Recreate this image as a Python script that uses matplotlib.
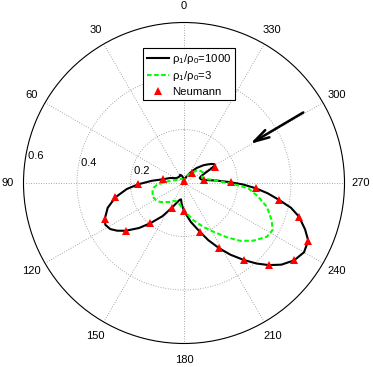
import numpy as np
import matplotlib
matplotlib.use("Agg")
import matplotlib.pyplot as plt

plt.rcParams['font.family'] = ['Liberation Sans', 'DejaVu Sans']
plt.rcParams['mathtext.fontset'] = 'custom'
plt.rcParams['mathtext.rm'] = 'Liberation Sans'

# rho1/rho0 = 1000 (angle in degrees, r)
th_hard = [0, 8, 16, 25, 33, 42, 52, 60, 70, 80, 86, 91.6, 96, 101.8, 108, 114.6, 118, 122,
           125.5, 129.3, 135, 140.1, 147, 153.8, 160, 165, 169.6, 174, 180, 190, 197.9, 203,
           208.4, 213, 217.8, 222, 225.9, 230, 234.9, 240, 245.1, 249, 253.7, 257, 259.9, 263,
           265.8, 268.5, 270.9, 274.5, 278.5, 283, 288, 292, 295, 297.5, 299.5, 302, 304.4,
           308, 312.5, 319.7, 325, 329, 338, 348, 360]
r_hard = [0.012, 0.019, 0.028, 0.034, 0.030, 0.030, 0.032, 0.036, 0.055, 0.080, 0.120, 0.171,
          0.215, 0.262, 0.300, 0.326, 0.333, 0.325, 0.307, 0.282, 0.238, 0.196, 0.148, 0.104,
          0.078, 0.066, 0.062, 0.080, 0.105, 0.148, 0.191, 0.232, 0.278, 0.320, 0.364, 0.405,
          0.441, 0.475, 0.503, 0.518, 0.512, 0.485, 0.448, 0.410, 0.361, 0.315, 0.269, 0.222,
          0.175, 0.120, 0.076, 0.064, 0.062, 0.070, 0.085, 0.110, 0.133, 0.133, 0.126, 0.113,
          0.098, 0.074, 0.055, 0.044, 0.027, 0.016, 0.012]

# rho1/rho0 = 3
th_soft = [0, 20, 40, 55, 68, 80, 89, 94, 99, 104, 113.6, 123, 129, 135, 142, 149, 158, 166,
           174.6, 185, 194, 203.8, 211, 218.2, 224.1, 230.2, 237, 242, 247, 254, 259.6, 265.3,
           268.8, 272, 276, 281, 287, 293, 298, 305, 314, 322, 332, 345, 360]
r_soft = [0.010, 0.015, 0.020, 0.025, 0.030, 0.050, 0.077, 0.102, 0.115, 0.121, 0.128, 0.122,
          0.113, 0.101, 0.090, 0.078, 0.074, 0.079, 0.091, 0.114, 0.143, 0.179, 0.212, 0.258,
          0.301, 0.337, 0.369, 0.375, 0.356, 0.322, 0.282, 0.241, 0.183, 0.140, 0.110, 0.080,
          0.070, 0.075, 0.080, 0.078, 0.066, 0.050, 0.035, 0.020, 0.010]

# Neumann
th_neu = [79.9, 91.6, 101.8, 114.6, 129.3, 140.1, 153.8, 180.6, 197.9, 208.4, 217.8, 225.9,
          234.9, 245.1, 253.7, 259.9, 265.8, 270.9, 278.5, 297.7, 319.4, 352]
r_neu = [0.079, 0.171, 0.262, 0.326, 0.282, 0.196, 0.104, 0.105, 0.191, 0.278, 0.364, 0.441,
         0.503, 0.512, 0.448, 0.361, 0.269, 0.175, 0.076, 0.131, 0.048, 0.009]

# incident direction arrow
arrow_th = 300.6
arrow_r = (0.518, 0.287)

rmax = 0.6
angle_ticks = list(range(0, 360, 30))
r_ticks = [0.2, 0.4, 0.6]

fig = plt.figure(figsize=(3.73, 3.67), dpi=100)
ax = fig.add_axes([23.5 / 373, 23.5 / 367, 321 / 373, 321 / 367], projection='polar')
ax.set_theta_zero_location('N')
ax.set_theta_direction(1)

ax.plot(np.radians(th_hard), r_hard, color='k', lw=1.5, label=r'ρ$_1$/ρ$_0$=1000', zorder=3)
ax.plot(np.radians(th_soft), r_soft, color='#00ff00', lw=1.5, dashes=(2.2, 1.2),
        label=r'ρ$_1$/ρ$_0$=3', zorder=3)
ax.plot(np.radians(th_neu), r_neu, ls='none', marker='^', ms=6, color='#ff0000',
        mec='#ff0000', mew=0, label='Neumann', zorder=4)

ax.annotate('', xy=(np.radians(arrow_th), arrow_r[1]), xytext=(np.radians(arrow_th), arrow_r[0]),
            arrowprops=dict(arrowstyle='->,head_length=1.1,head_width=0.3', lw=1.8, color='k',
                            shrinkA=0, shrinkB=0))

ax.set_rlim(0, rmax)
ax.set_xticks(np.radians(angle_ticks))
ax.set_xticklabels([])
ax.set_yticks(r_ticks[:-1])
ax.set_yticklabels([])
ax.grid(True, color='0.55', lw=0.6, ls=(0, (1, 2)))
ax.spines['polar'].set_color('k')
ax.spines['polar'].set_linewidth(0.8)
ax.tick_params(length=0)

for a in angle_ticks:
    ax.text(np.radians(a), rmax * 1.1, str(a), ha='center', va='center', fontsize=8,
            clip_on=False)
for rt in r_ticks:
    ax.text(np.radians(82), rt, ' %g' % rt, ha='left', va='bottom', fontsize=8)

leg = ax.legend(loc='upper left', bbox_to_anchor=(143.3 / 373, 1 - 48.3 / 367),
                bbox_transform=fig.transFigure, fontsize=8.2, fancybox=False, framealpha=1,
                edgecolor='k', handlelength=2.0, handletextpad=0.2, borderpad=0.3,
                labelspacing=0.3, borderaxespad=0)
leg.get_frame().set_linewidth(0.8)

fig.savefig('out.png', dpi=100)
